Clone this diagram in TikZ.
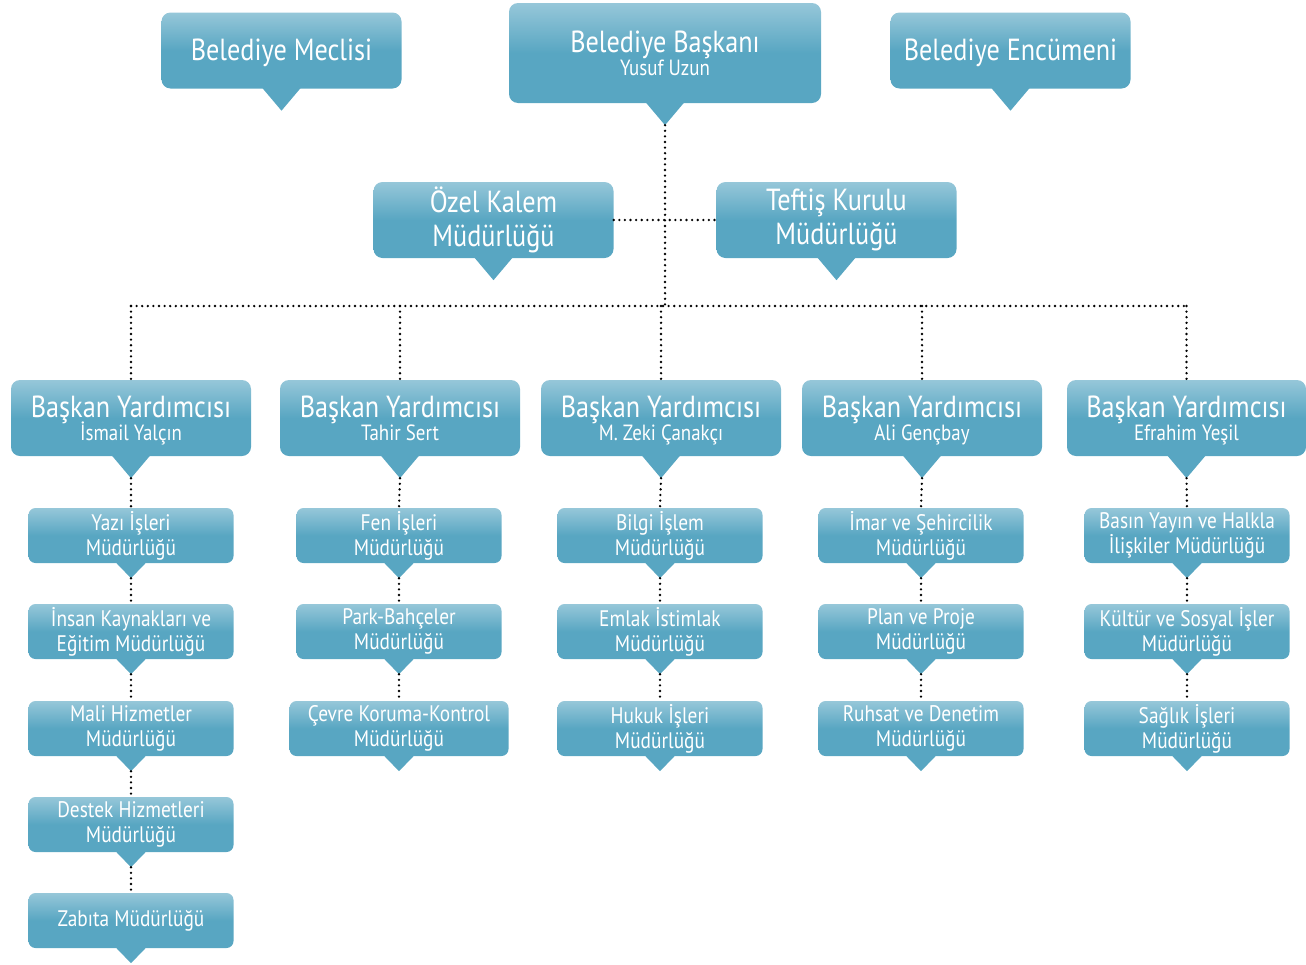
\documentclass[tikz,border=0pt]{standalone}
\usepackage{fontspec}
\newfontfamily\orgfont[FakeStretch=0.86]{PT Sans}
\newcommand\fbig{\orgfont\fontsize{30.5}{34}\selectfont}
\newcommand\fsub{\orgfont\fontsize{22}{24}\selectfont}
\newcommand\fsmall{\orgfont\fontsize{22.5}{25}\selectfont}
\newcommand\tline{\rule{0pt}{27pt}}
\definecolor{boxc}{RGB}{88,166,194}
\definecolor{boxl}{RGB}{150,199,217}
\tikzset{
  bx/.style={rounded corners=9pt, top color=boxl, bottom color=boxc, middle color=boxc,
    text=white, align=center, inner sep=0pt},
  bigbox/.style={bx, minimum width=240pt, minimum height=76pt, font=\fbig},
  smbox/.style={bx, minimum width=205pt, minimum height=55pt, font=\fsmall, rounded corners=7pt},
  conn/.style={draw=black, line width=2.6pt, dash pattern=on 0pt off 5.6pt, line cap=round}
}
\newcommand\tipbig[1]{\fill[boxc] ([xshift=-19pt,yshift=0.5pt]#1.south) -- ([xshift=19pt,yshift=0.5pt]#1.south) -- ([yshift=-22pt]#1.south) coordinate (#1-tip) -- cycle;}
\newcommand\tipsm[1]{\fill[boxc] ([xshift=-15pt,yshift=0.5pt]#1.south) -- ([xshift=15pt,yshift=0.5pt]#1.south) -- ([yshift=-15pt]#1.south) coordinate (#1-tip) -- cycle;}
\begin{document}
\begin{tikzpicture}[x=1pt,y=-1pt]
\useasboundingbox (0,0) rectangle (1306,964);
% top level
\node[bigbox] (mec) at (281.5,50.5) {\tline Belediye Meclisi}; \tipbig{mec}
\node[bigbox, minimum width=312pt, minimum height=100pt] (bas) at (665,53) {\tline Belediye Başkanı\\[-11pt]{\fsub Yusuf Uzun\vphantom{ç}}}; \tipbig{bas}
\node[bigbox] (enc) at (1010.5,50.5) {\tline Belediye Encümeni}; \tipbig{enc}
% second level
\node[bigbox] (oz) at (493.5,220) {Özel Kalem\\Müdürlüğü}; \tipbig{oz}
\node[bigbox] (tf) at (836.5,220) {Teftiş Kurulu\\Müdürlüğü}; \tipbig{tf}
% deputies
\node[bigbox] (y1) at (131,418) {\tline Başkan Yardımcısı\\[-11pt]{\fsub İsmail Yalçın\vphantom{ç}}}; \tipbig{y1}
\node[bigbox] (y2) at (400,418) {\tline Başkan Yardımcısı\\[-11pt]{\fsub Tahir Sert\vphantom{ç}}}; \tipbig{y2}
\node[bigbox] (y3) at (661,418) {\tline Başkan Yardımcısı\\[-11pt]{\fsub M. Zeki Çanakçı\vphantom{ç}}}; \tipbig{y3}
\node[bigbox] (y4) at (922,418) {\tline Başkan Yardımcısı\\[-11pt]{\fsub Ali Gençbay\vphantom{ç}}}; \tipbig{y4}
\node[bigbox, minimum width=239pt] (y5) at (1186.5,418) {\tline Başkan Yardımcısı\\[-11pt]{\fsub Efrahim Yeşil\vphantom{ç}}}; \tipbig{y5}
% column 1
\node[smbox] (a1) at (131,535.5) {Yazı İşleri\\Müdürlüğü}; \tipsm{a1}
\node[smbox] (a2) at (131,631.5) {İnsan Kaynakları ve\\Eğitim Müdürlüğü}; \tipsm{a2}
\node[smbox] (a3) at (131,728.5) {Mali Hizmetler\\Müdürlüğü}; \tipsm{a3}
\node[smbox] (a4) at (131,824.5) {Destek Hizmetleri\\Müdürlüğü}; \tipsm{a4}
\node[smbox] (a5) at (131,920.5) {Zabıta Müdürlüğü}; \tipsm{a5}
% column 2
\node[smbox] (b1) at (399,535.5) {Fen İşleri\\Müdürlüğü}; \tipsm{b1}
\node[smbox] (b2) at (399,631.5) {Park-Bahçeler\\Müdürlüğü}; \tipsm{b2}
\node[smbox, minimum width=219pt] (b3) at (399,728.5) {Çevre Koruma-Kontrol\\Müdürlüğü}; \tipsm{b3}
% column 3
\node[smbox] (c1) at (660,535.5) {Bilgi İşlem\\Müdürlüğü}; \tipsm{c1}
\node[smbox] (c2) at (660,631.5) {Emlak İstimlak\\Müdürlüğü}; \tipsm{c2}
\node[smbox] (c3) at (660,728.5) {Hukuk İşleri\\Müdürlüğü}; \tipsm{c3}
% column 4
\node[smbox] (d1) at (921,535.5) {İmar ve Şehircilik\\Müdürlüğü}; \tipsm{d1}
\node[smbox] (d2) at (921,631.5) {Plan ve Proje\\Müdürlüğü}; \tipsm{d2}
\node[smbox] (d3) at (921,728.5) {Ruhsat ve Denetim\\Müdürlüğü}; \tipsm{d3}
% column 5
\node[smbox] (e1) at (1187,535.5) {Basın Yayın ve Halkla\\İlişkiler Müdürlüğü}; \tipsm{e1}
\node[smbox] (e2) at (1187,631.5) {Kültür ve Sosyal İşler\\Müdürlüğü}; \tipsm{e2}
\node[smbox] (e3) at (1187,728.5) {Sağlık İşleri\\Müdürlüğü}; \tipsm{e3}
% connectors
\coordinate (bus) at (665,306);
\draw[conn] (bas-tip) -- (bus);
\draw[conn] (oz.east) -- (tf.west);
\draw[conn] (y1.north |- bus) -- (y5.north |- bus);
\foreach \n in {y1,y2,y3,y4,y5} \draw[conn] (\n.north |- bus) -- (\n.north);
\draw[conn] (y1-tip) -- (a1.north);
\draw[conn] (a1-tip) -- (a2.north);
\draw[conn] (a2-tip) -- (a3.north);
\draw[conn] (a3-tip) -- (a4.north);
\draw[conn] (a4-tip) -- (a5.north);
\draw[conn] (y2-tip) -- (b1.north);
\draw[conn] (b1-tip) -- (b2.north);
\draw[conn] (b2-tip) -- (b3.north);
\draw[conn] (y3-tip) -- (c1.north);
\draw[conn] (c1-tip) -- (c2.north);
\draw[conn] (c2-tip) -- (c3.north);
\draw[conn] (y4-tip) -- (d1.north);
\draw[conn] (d1-tip) -- (d2.north);
\draw[conn] (d2-tip) -- (d3.north);
\draw[conn] (y5-tip) -- (e1.north);
\draw[conn] (e1-tip) -- (e2.north);
\draw[conn] (e2-tip) -- (e3.north);
\end{tikzpicture}
\end{document}
